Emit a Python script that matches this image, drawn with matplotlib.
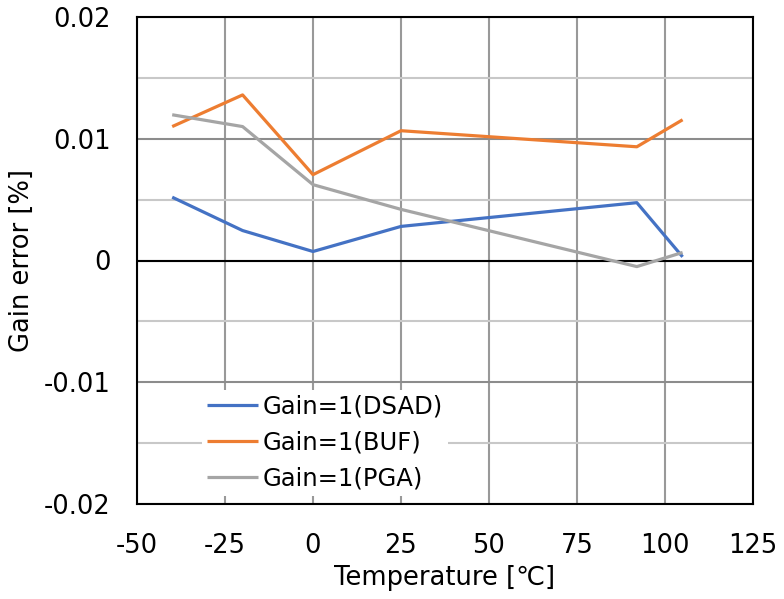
import matplotlib
matplotlib.use("Agg")
import matplotlib.pyplot as plt
from matplotlib.ticker import MultipleLocator

plt.rcParams['font.family'] = ['DejaVu Sans', 'Noto Sans CJK JP']
plt.rcParams['axes.unicode_minus'] = False

temps = [-40, -20, 0, 25, 92, 105]
dsad = [0.0052, 0.00246, 0.00074, 0.0028, 0.00475, 0.0003]
buf = [0.0110, 0.0136, 0.00705, 0.01066, 0.00934, 0.01156]
pga = [0.01197, 0.0110, 0.00623, 0.0042, -0.0005, 0.00066]
labels = ['Gain=1(DSAD)', 'Gain=1(BUF)', 'Gain=1(PGA)']
colors = ['#4472C4', '#ED7D31', '#A5A5A5']

fig = plt.figure(figsize=(7.84, 5.99), dpi=100)
ax = fig.add_axes([137/784, 1-504/599, (753-137)/784, (504-17)/599])

ax.set_xlim(-50, 125)
ax.set_ylim(-0.02, 0.02)
ax.xaxis.set_major_locator(MultipleLocator(25))
ax.yaxis.set_major_locator(MultipleLocator(0.01))
ax.yaxis.set_minor_locator(MultipleLocator(0.005))

ax.grid(which='major', axis='x', color='#999999', lw=1.5)
ax.grid(which='major', axis='y', color='#8c8c8c', lw=1.5)
ax.grid(which='minor', axis='y', color='#c8c8c8', lw=1.5)
ax.axhline(0, color='black', lw=1.5, zorder=1.5)
ax.set_axisbelow(True)

for y, lab, c in zip([dsad, buf, pga], labels, colors):
    ax.plot(temps, y, color=c, lw=2.3, label=lab, solid_capstyle='butt')

for s in ax.spines.values():
    s.set_color('black')
    s.set_linewidth(1.5)

def fmt_y(v, pos):
    if abs(v) < 1e-12:
        return '0'
    return ('%.2f' % v)
ax.yaxis.set_major_formatter(matplotlib.ticker.FuncFormatter(fmt_y))

ax.tick_params(which='both', length=0, labelsize=18.5)
ax.tick_params(axis='x', pad=21)
ax.tick_params(axis='y', pad=19)

ax.set_xlabel('Temperature [℃]', fontsize=18.5, labelpad=4)
ax.set_ylabel('Gain error [%]', fontsize=18.5, labelpad=6)

leg = ax.legend(loc='upper left', bbox_to_anchor=(0.105, 0.235), frameon=True,
                fontsize=17.5, handlelength=2.1, handletextpad=0.2,
                labelspacing=0.5, borderpad=0.2, borderaxespad=0)
leg.get_frame().set_edgecolor('none')
leg.get_frame().set_facecolor('white')
leg.get_frame().set_alpha(1)

fig.savefig('out.png', dpi=100)
